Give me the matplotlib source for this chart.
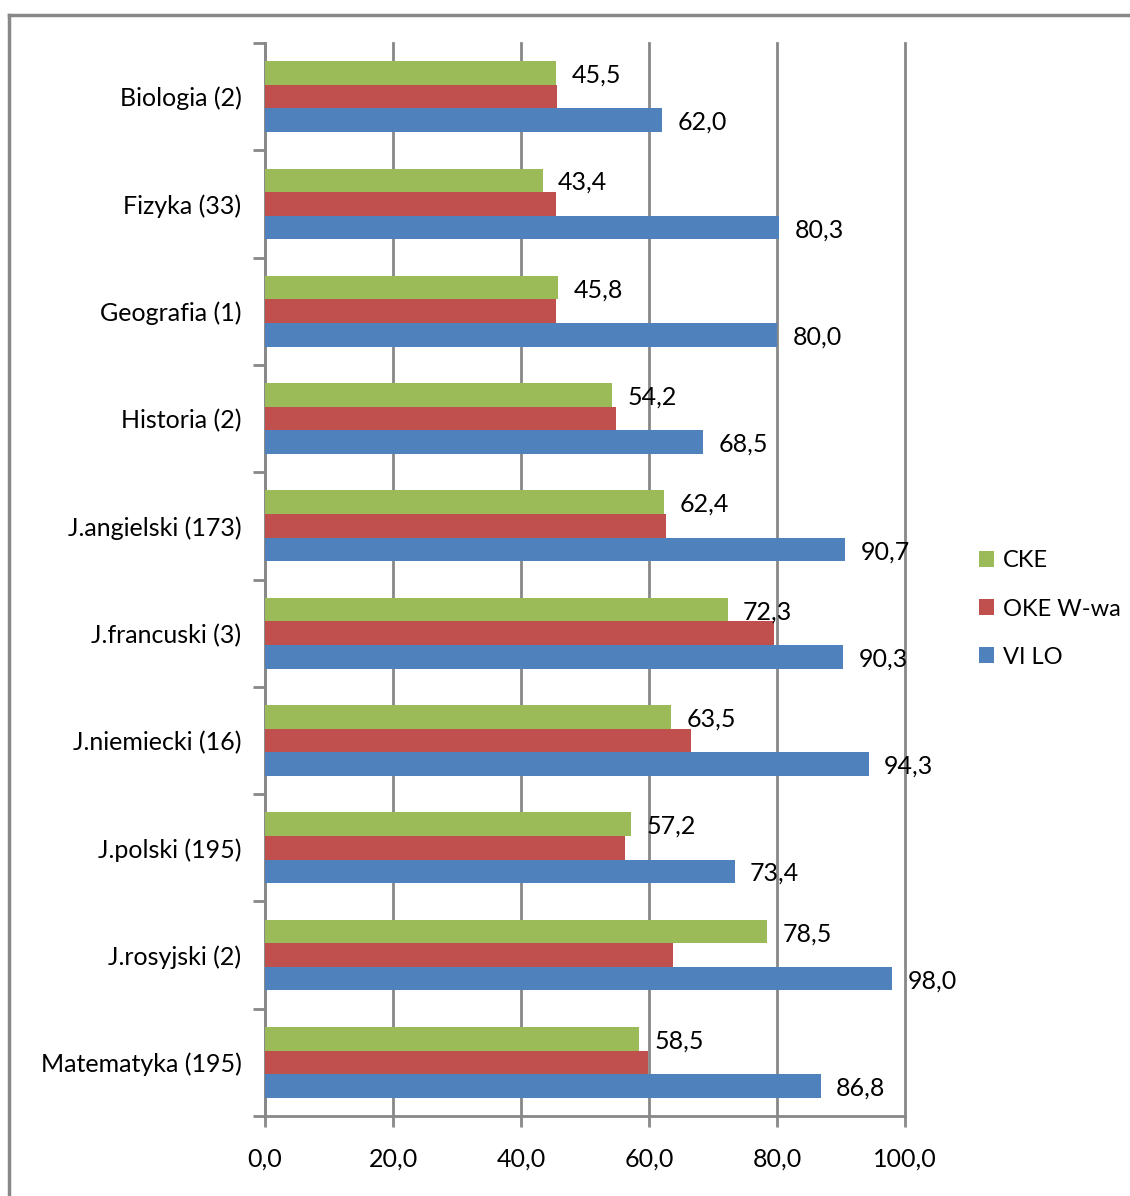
import numpy as np
import matplotlib.pyplot as plt
from matplotlib.lines import Line2D

# categories top -> bottom as in the picture
categories = ["Biologia (2)", "Fizyka (33)", "Geografia (1)", "Historia (2)",
              "J.angielski (173)", "J.francuski (3)", "J.niemiecki (16)",
              "J.polski (195)", "J.rosyjski (2)", "Matematyka (195)"]
cke = [45.5, 43.4, 45.8, 54.2, 62.4, 72.3, 63.5, 57.2, 78.5, 58.5]
oke = [45.6, 45.4, 45.4, 54.9, 62.7, 79.5, 66.5, 56.3, 63.7, 59.9]
vilo = [62.0, 80.3, 80.0, 68.5, 90.7, 90.3, 94.3, 73.4, 98.0, 86.8]
x_ticks = [0, 20, 40, 60, 80, 100]

GREEN = "#9BBB59"
RED = "#C0504D"
BLUE = "#4F81BD"
GRID = "#888888"

plt.rcParams['font.family'] = ['Lato', 'DejaVu Sans']
FS = 18


def fmt(v):
    return f"{v:.1f}".replace(".", ",")


fig = plt.figure(figsize=(11.3, 11.96), dpi=100)
ax = fig.add_axes([265 / 1130, 1 - 1116 / 1196, 640 / 1130, (1116 - 43) / 1196])

n = len(categories)
y = np.arange(n)[::-1]  # Biologia at top
h = 0.22

ax.barh(y + h, cke, height=h, color=GREEN, zorder=3, label="CKE")
ax.barh(y, oke, height=h, color=RED, zorder=3, label="OKE W-wa")
ax.barh(y - h, vilo, height=h, color=BLUE, zorder=3, label="VI LO")

for yi, c, b in zip(y, cke, vilo):
    ax.text(c + 2.4, yi + h - 0.02, fmt(c), va="center", ha="left", fontsize=FS, zorder=4)
    ax.text(b + 2.4, yi - h - 0.02, fmt(b), va="center", ha="left", fontsize=FS, zorder=4)

ax.set_xlim(0, 100)
ax.set_ylim(-0.5, n - 0.5)

ax.set_xticks(x_ticks)
ax.set_xticklabels([fmt(v) for v in x_ticks], fontsize=FS)
ax.xaxis.grid(True, color=GRID, linewidth=2, zorder=0)
for gl in ax.get_xgridlines():
    gl.set_clip_on(False)

ax.set_yticks(np.arange(n + 1) - 0.5)
ax.set_yticklabels([])
ax.set_yticks(y, minor=True)
ax.set_yticklabels(categories, minor=True, fontsize=FS)
ax.tick_params(axis="y", which="major", length=9, width=2, color=GRID, direction="out")
ax.tick_params(axis="y", which="minor", length=0, pad=17)
ax.tick_params(axis="x", length=8, width=2, color=GRID, direction="out", pad=15)

for s in ["top", "right"]:
    ax.spines[s].set_visible(False)
for s in ["left", "bottom"]:
    ax.spines[s].set_color(GRID)
    ax.spines[s].set_linewidth(2)

fig.legend(loc="center left", bbox_to_anchor=(979 / 1130, 1 - 609 / 1196),
           frameon=False, fontsize=17, handlelength=0.65, handleheight=0.65,
           handletextpad=0.35, labelspacing=1.15, borderpad=0, borderaxespad=0)

# outer chart frame
fig.add_artist(Line2D([9 / 1130, 1], [1 - 15 / 1196] * 2, color=GRID, linewidth=2.5,
                      transform=fig.transFigure))
fig.add_artist(Line2D([9 / 1130] * 2, [0, 1 - 15 / 1196], color=GRID, linewidth=2.5,
                      transform=fig.transFigure))

fig.savefig("out.png", dpi=100)
